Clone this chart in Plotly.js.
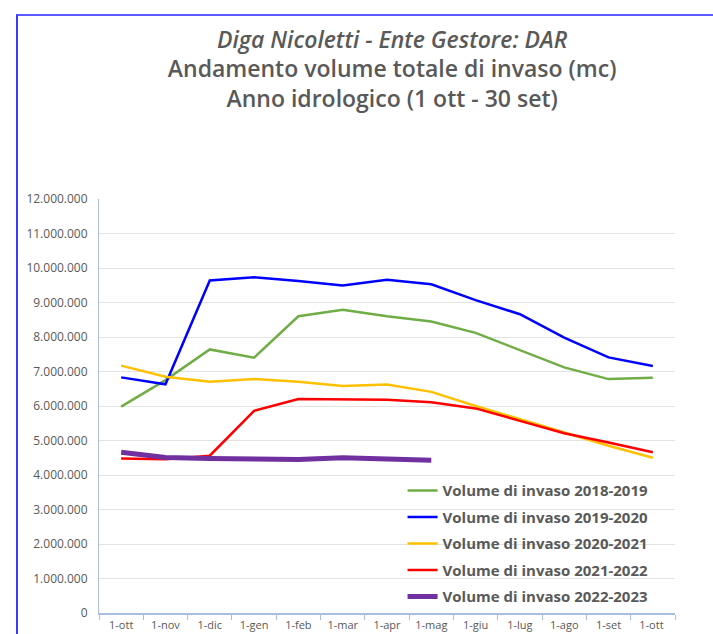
<!DOCTYPE html>
<html>
<head>
<meta charset="utf-8">
<script src="https://cdn.plot.ly/plotly-3.0.1.min.js"></script>
<style>
  body { margin: 0; background: #fff; }
  #wrap { position: relative; width: 713px; height: 634px; overflow: hidden; }
  #chart { position: absolute; left: 0; top: 0; width: 713px; height: 634px; }
  #frame { position: absolute; left: 16px; top: 14px; width: 720px; height: 640px;
           border-left: 2px solid #3a3aff; border-top: 2px solid #5a5aff; pointer-events: none; }
</style>
</head>
<body>
<div id="wrap">
  <div id="chart"></div>
  <div id="frame"></div>
</div>
<script>
// months of the hydrological year
const months = ["1-ott", "1-nov", "1-dic", "1-gen", "1-feb", "1-mar", "1-apr",
                "1-mag", "1-giu", "1-lug", "1-ago", "1-set", "1-ott "];

// volumes (mc)
const vol2018_2019 = [5980000, 6750000, 7640000, 7400000, 8600000, 8790000, 8600000,
                      8450000, 8120000, 7620000, 7120000, 6780000, 6820000];
const vol2019_2020 = [6830000, 6630000, 9640000, 9730000, 9620000, 9490000, 9660000,
                      9530000, 9070000, 8660000, 7980000, 7410000, 7160000];
const vol2020_2021 = [7170000, 6850000, 6700000, 6780000, 6700000, 6580000, 6620000,
                      6410000, 6000000, 5620000, 5240000, 4850000, 4500000];
const vol2021_2022 = [4480000, 4460000, 4560000, 5860000, 6200000, 6200000, 6180000,
                      6110000, 5930000, 5570000, 5210000, 4940000, 4660000];
const vol2022_2023 = [4660000, 4510000, 4480000, 4450000, 4450000, 4500000, 4470000,
                      4430000];

const seriesNames = ["Volume di invaso 2018-2019", "Volume di invaso 2019-2020",
                     "Volume di invaso 2020-2021", "Volume di invaso 2021-2022",
                     "Volume di invaso 2022-2023"];
const seriesColors = ["#70AD47", "#0000FF", "#FFC000", "#FF0000", "#7030A0"];
const seriesWidths = [2.5, 2.5, 2.5, 2.5, 5];
const seriesValues = [vol2018_2019, vol2019_2020, vol2020_2021, vol2021_2022, vol2022_2023];

const traces = seriesValues.map((vals, i) => ({
    name: seriesNames[i],
    legendgroup: "g" + i, // one group per trace so tracegroupgap spaces the rows
    x: months.slice(0, vals.length),
    y: vals,
    type: "scatter",
    mode: "lines",
    line: { color: seriesColors[i], width: seriesWidths[i] },
}));

const grey = "#595959";
const layout = {
    width: 713,
    height: 634,
    margin: { l: 99, r: 38, t: 199, b: 21 },
    paper_bgcolor: "#fff",
    plot_bgcolor: "#fff",
    separators: ",.",
    font: { family: "Open Sans, sans-serif", color: grey },
    title: {
        text: "<i>Diga Nicoletti - Ente Gestore: DAR</i><br>Andamento volume totale di invaso (mc)<br>Anno idrologico (1 ott - 30 set)",
        font: { family: "Open Sans, sans-serif", size: 23, color: grey, weight: 600 },
        x: 0.55,
        xanchor: "center",
        yref: "container",
        y: 0.925,
        yanchor: "top",
    },
    xaxis: {
        type: "category",
        categoryorder: "array",
        categoryarray: months,
        range: [-0.5, 12.5],
        showgrid: false,
        showline: true,
        linecolor: "#A9BEE4",
        linewidth: 1.5,
        ticks: "outside",
        tickson: "boundaries",
        ticklen: 5,
        tickcolor: "#A9BEE4",
        ticklabelstandoff: 1,
        tickfont: { size: 11, color: grey },
        fixedrange: true,
    },
    yaxis: {
        range: [0, 12000000],
        dtick: 1000000,
        tickformat: ",d",
        showgrid: true,
        gridcolor: "#E3E3E3",
        gridwidth: 1,
        showline: true,
        linecolor: "#A9BEE4",
        zeroline: false,
        ticks: "",
        ticklabelstandoff: 8,
        tickfont: { size: 12, color: grey },
        fixedrange: true,
    },
    legend: {
        x: 0.527,
        xanchor: "left",
        y: 0.335,
        yanchor: "top",
        bgcolor: "rgba(0,0,0,0)",
        font: { size: 15, color: grey, weight: 700 },
        itemwidth: 30,
        tracegroupgap: 4,
    },
    showlegend: true,
};

Plotly.newPlot("chart", traces, layout, { staticPlot: true });
</script>
</body>
</html>
